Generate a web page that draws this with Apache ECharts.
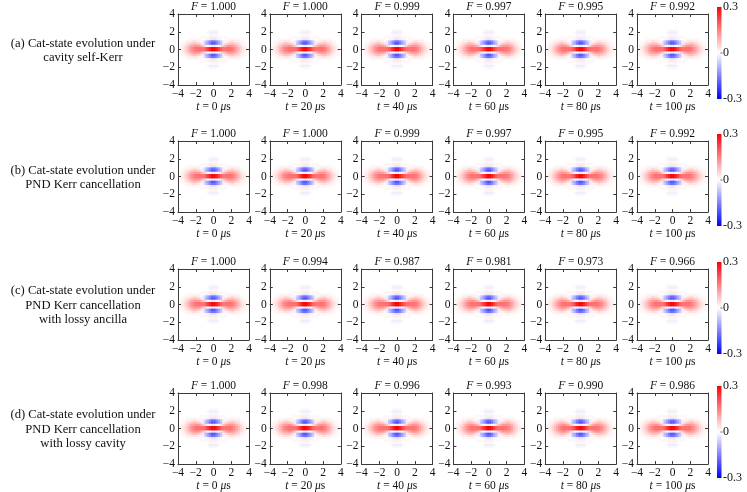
<!DOCTYPE html>
<html>
  <head>
    <meta charset="utf-8">
    <title>Cat-state Wigner functions</title>
    <script src="https://cdn.jsdelivr.net/npm/echarts@6/dist/echarts.min.js"></script>
    <style>
      html, body { margin: 0; padding: 0; background: #fff; }
    </style>
  </head>
  <body>
    <div id="chart" style="width: 747px; height: 492px;"></div>
    <script type="text/javascript">
      var rowLabels = [
        "(a) Cat-state evolution under\ncavity self-Kerr",
        "(b) Cat-state evolution under\nPND Kerr cancellation",
        "(c) Cat-state evolution under\nPND Kerr cancellation\nwith lossy ancilla",
        "(d) Cat-state evolution under\nPND Kerr cancellation\nwith lossy cavity",
      ];
      var times = [0, 20, 40, 60, 80, 100];
      var fidelityA = ["1.000", "1.000", "0.999", "0.997", "0.995", "0.992"];
      var fidelityB = ["1.000", "1.000", "0.999", "0.997", "0.995", "0.992"];
      var fidelityC = ["1.000", "0.994", "0.987", "0.981", "0.973", "0.966"];
      var fidelityD = ["1.000", "0.998", "0.996", "0.993", "0.990", "0.986"];
      var axisTicks = [-4, 4, 2];
      var colorbarLabels = ["0.3", "0", "-0.3"];

      // phase-space cells (centres), 0.25 wide, covering -4 .. 4
      var cellCenters = [
        -3.875, -3.625, -3.375, -3.125, -2.875, -2.625, -2.375, -2.125,
        -1.875, -1.625, -1.375, -1.125, -0.875, -0.625, -0.375, -0.125,
        0.125, 0.375, 0.625, 0.875, 1.125, 1.375, 1.625, 1.875,
        2.125, 2.375, 2.625, 2.875, 3.125, 3.375, 3.625, 3.875,
      ];
      // Wigner function (x100): rows p = 2.375 .. -2.375, cols x = -3.625 .. 3.625
      var wP = [2.375, 2.125, 1.875, 1.625, 1.375, 1.125, 0.875, 0.625, 0.375, 0.125,
        -0.125, -0.375, -0.625, -0.875, -1.125, -1.375, -1.625, -1.875, -2.125, -2.375];
      var wX = cellCenters.slice(1, 31);
      var wRows = [
        [0,0,0,0,0,0,0,0,0,0,0,0,0,0,0,0,0,0,0,0,0,0,0,0,0,0,0,0,0,0],
        [0,0,0,0,0,0,0,0,0,0,0,0,0,-1,-1,-1,-1,0,0,0,0,0,0,0,0,0,0,0,0,0],
        [0,0,0,0,0,0,0,0,0,0,0,0,-1,-2,-2,-2,-2,-1,0,0,0,0,0,0,0,0,0,0,0,0],
        [0,0,0,0,0,0,0,0,0,0,0,0,0,1,1,1,1,0,0,0,0,0,0,0,0,0,0,0,0,0],
        [0,0,0,0,0,0,0,0,0,1,1,1,1,2,2,2,2,1,1,1,1,0,0,0,0,0,0,0,0,0],
        [0,0,0,1,1,1,1,1,1,1,0,-1,-1,-2,-3,-3,-2,-1,-1,0,1,1,1,1,1,1,1,0,0,0],
        [0,1,1,2,2,3,4,3,2,1,-2,-6,-10,-14,-17,-17,-14,-10,-6,-2,1,2,3,4,3,2,2,1,1,0],
        [1,1,2,4,5,7,8,7,6,4,-2,-8,-11,-16,-20,-20,-16,-11,-8,-2,4,6,7,8,7,5,4,2,1,1],
        [1,2,4,6,9,11,12,13,12,10,7,4,1,-1,-2,-2,-1,1,4,7,10,12,13,12,11,9,6,4,2,1],
        [2,3,5,8,11,14,16,17,17,17,17,19,23,27,30,30,27,23,19,17,17,17,17,16,14,11,8,5,3,2],
        [2,3,5,8,11,14,16,17,17,17,17,19,23,27,30,30,27,23,19,17,17,17,17,16,14,11,8,5,3,2],
        [1,2,4,6,9,11,12,13,12,10,7,4,1,-1,-2,-2,-1,1,4,7,10,12,13,12,11,9,6,4,2,1],
        [1,1,2,4,5,7,8,7,6,4,-2,-8,-11,-16,-20,-20,-16,-11,-8,-2,4,6,7,8,7,5,4,2,1,1],
        [0,1,1,2,2,3,4,3,2,1,-2,-6,-10,-14,-17,-17,-14,-10,-6,-2,1,2,3,4,3,2,2,1,1,0],
        [0,0,0,1,1,1,1,1,1,1,0,-1,-1,-2,-3,-3,-2,-1,-1,0,1,1,1,1,1,1,1,0,0,0],
        [0,0,0,0,0,0,0,0,0,1,1,1,1,2,2,2,2,1,1,1,1,0,0,0,0,0,0,0,0,0],
        [0,0,0,0,0,0,0,0,0,0,0,0,0,1,1,1,1,0,0,0,0,0,0,0,0,0,0,0,0,0],
        [0,0,0,0,0,0,0,0,0,0,0,0,-1,-2,-2,-2,-2,-1,0,0,0,0,0,0,0,0,0,0,0,0],
        [0,0,0,0,0,0,0,0,0,0,0,0,0,-1,-1,-1,-1,0,0,0,0,0,0,0,0,0,0,0,0,0],
        [0,0,0,0,0,0,0,0,0,0,0,0,0,0,0,0,0,0,0,0,0,0,0,0,0,0,0,0,0,0],
      ];

      (function () {
        var chart = echarts.init(document.getElementById("chart"));
        var serif = "'Liberation Serif', 'Times New Roman', serif";
        var ink = "#111";
        var frame = "#3a3a3a";
        var fidelities = [fidelityA, fidelityB, fidelityC, fidelityD];

        var colLeft = [178, 269.8, 361.6, 453.4, 545.2, 637];
        var rowTop = [14, 141, 269, 393];
        var boxW = 71, boxH = 71;

        var cells = [];
        wRows.forEach(function (row, r) {
          row.forEach(function (v, c) {
            cells.push([cellCenters.indexOf(wX[c]), cellCenters.indexOf(wP[r]), v / 100]);
          });
        });

        function minus(v) {
          return v < 0 ? "\u2212" + (-v) : String(v);
        }

        var grids = [], xAxes = [], yAxes = [], series = [], titles = [], graphics = [];
        var valueAxis = {
          type: "value",
          min: axisTicks[0],
          max: axisTicks[1],
          interval: axisTicks[2],
          z: 5,
          axisLine: { show: true, onZero: false, lineStyle: { color: frame, width: 1 } },
          axisTick: { show: true, inside: true, length: 3, lineStyle: { color: frame } },
          splitLine: { show: false },
        };

        rowTop.forEach(function (top, r) {
          colLeft.forEach(function (left, c) {
            var g = grids.length;
            grids.push({ left: left, top: top, width: boxW, height: boxH, outerBoundsMode: "none", containLabel: false });

            xAxes.push({ type: "category", gridIndex: g, data: cellCenters, show: false });
            xAxes.push(Object.assign({}, valueAxis, {
              gridIndex: g,
              position: "bottom",
              axisLabel: { formatter: minus, fontFamily: serif, fontSize: 11.5, color: ink, margin: 3 },
              name: "{i|t} = " + times[c] + " {i|\u03bc}s",
              nameLocation: "middle",
              nameGap: 12,
              nameTextStyle: {
                fontFamily: serif, fontSize: 11.5, color: ink, verticalAlign: "top",
                rich: { i: { fontFamily: serif, fontSize: 11.5, fontStyle: "italic", color: ink } },
              },
            }));
            xAxes.push(Object.assign({}, valueAxis, { gridIndex: g, position: "top", axisLabel: { show: false } }));

            yAxes.push({ type: "category", gridIndex: g, data: cellCenters, show: false });
            yAxes.push(Object.assign({}, valueAxis, {
              gridIndex: g,
              position: "left",
              axisLabel: { formatter: minus, fontFamily: serif, fontSize: 11.5, color: ink, margin: 3 },
            }));
            yAxes.push(Object.assign({}, valueAxis, { gridIndex: g, position: "right", axisLabel: { show: false } }));

            series.push({
              type: "heatmap",
              xAxisIndex: 3 * g,
              yAxisIndex: 3 * g,
              data: cells,
              silent: true,
              progressive: 0,
              emphasis: { disabled: true },
            });

            titles.push({
              text: "{i|F} = " + fidelities[r][c],
              left: left + boxW / 2,
              top: top - 13,
              textAlign: "center",
              padding: 0,
              textStyle: {
                fontFamily: serif, fontSize: 11.5, fontWeight: "normal", color: ink,
                rich: { i: { fontFamily: serif, fontSize: 11.5, fontStyle: "italic", color: ink } },
              },
            });
          });

          // row caption
          graphics.push({
            type: "text",
            style: {
              text: rowLabels[r],
              x: 83,
              y: top + boxH / 2 + 1,
              align: "center",
              verticalAlign: "middle",
              font: "12.6px " + serif,
              lineHeight: 14.5,
              fill: ink,
            },
          });

          // colour bar
          var cbTop = top - 7, cbBottom = top + 85, cbX = 717;
          var cbMid = (cbTop + cbBottom) / 2;
          graphics.push({
            type: "rect",
            shape: { x: cbX, y: cbTop, width: 4.5, height: cbBottom - cbTop },
            style: {
              fill: new echarts.graphic.LinearGradient(0, 0, 0, 1, [
                { offset: 0, color: "#ff0000" },
                { offset: 0.5, color: "#ffffff" },
                { offset: 1, color: "#0000ff" },
              ]),
            },
          });
          graphics.push({
            type: "line",
            shape: { x1: cbX + 3.5, y1: cbMid, x2: cbX + 5.5, y2: cbMid },
            style: { stroke: frame, lineWidth: 0.8 },
          });
          [cbTop, cbMid, cbBottom].forEach(function (y, k) {
            graphics.push({
              type: "text",
              style: {
                text: colorbarLabels[k],
                x: cbX + 6,
                y: y,
                align: "left",
                verticalAlign: "middle",
                font: "12px " + serif,
                fill: ink,
              },
            });
          });
        });

        chart.setOption({
          animation: false,
          backgroundColor: "#ffffff",
          title: titles,
          grid: grids,
          xAxis: xAxes,
          yAxis: yAxes,
          visualMap: {
            type: "continuous",
            show: false,
            min: -0.3,
            max: 0.3,
            dimension: 2,
            seriesIndex: series.map(function (s, i) { return i; }),
            inRange: { color: ["#0000ff", "#ffffff", "#ff0000"] },
          },
          series: series,
          graphic: graphics,
        });
      })();
    </script>
  </body>
</html>
